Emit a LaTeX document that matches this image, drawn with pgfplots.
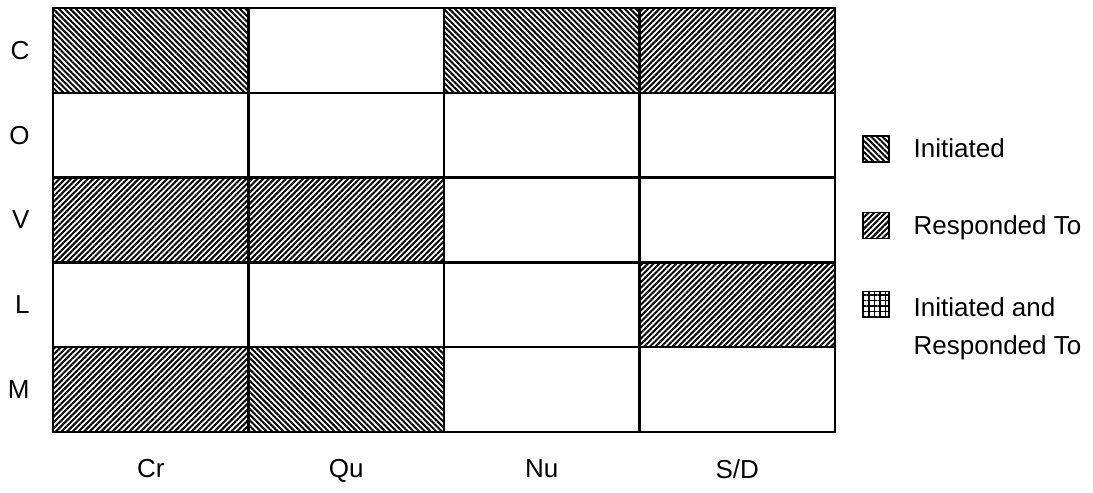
\documentclass[border=0pt]{standalone}
\usepackage{pgfplots}
\pgfplotsset{compat=1.18}
\usetikzlibrary{patterns.meta}
\usepackage{fontspec}
\setmainfont{Liberation Sans}

\tikzset{
  initiated/.style={pattern={Lines[angle=-45,distance=4bp,line width=2bp]},pattern color=black},
  responded/.style={pattern={Lines[angle=45,distance=4bp,line width=2bp]},pattern color=black},
  both/.style={pattern={Hatch[angle=0,distance=5.5bp,line width=1.2bp]},pattern color=black},
}

\begin{document}
\begin{tikzpicture}[font=\fontsize{26bp}{31bp}\selectfont]
\useasboundingbox (0,0) rectangle (1093bp,493bp);
\begin{axis}[
    scale only axis,
    width=782bp, height=424bp,
    at={(53bp,61bp)}, anchor=south west,
    xmin=0, xmax=4, ymin=0, ymax=5,
    xtick={0.5,1.5,2.5,3.5},
    xticklabels={Cr,Qu,Nu,S/D},
    ytick={0.5,1.5,2.5,3.5,4.5},
    yticklabels={M,L,V,O,C},
    tick label style={font=\fontsize{26bp}{31bp}\selectfont},
    major tick length=0pt,
    minor xtick={1,2,3},
    minor ytick={1,2,3,4},
    minor tick length=0pt,
    xminorgrids, yminorgrids,
    minor grid style={black, line width=2.4bp},
    axis line style={black, line width=2.8bp},
    axis on top,
    xticklabel style={yshift=-24bp},
    yticklabel style={xshift=-20bp},
    legend style={
      at={(1.0345,0.70)}, anchor=north west,
      draw=none, fill=none, inner sep=0pt,
      row sep=49bp, column sep=22bp,
      font=\fontsize{26bp}{31bp}\selectfont,
    },
    legend cell align=left,
    legend image code/.code={
      \draw[#1, draw=black, line width=1.5bp] (0bp,-13bp) rectangle (26bp,13bp);
    },
]
% Initiated
\addplot[initiated, draw=none] coordinates {(0,4) (1,4) (1,5) (0,5)} -- cycle;
\addlegendentry{Initiated}
\addplot[responded, draw=none] coordinates {(3,4) (4,4) (4,5) (3,5)} -- cycle;
\addlegendentry{Responded To}
\addlegendimage{both}
\addlegendentry{\renewcommand\arraystretch{1.22}\begin{tabular}[t]{@{}l@{}}Initiated and\\Responded To\end{tabular}}
\addplot[initiated, draw=none, forget plot] coordinates {(2,4) (3,4) (3,5) (2,5)} -- cycle;
\addplot[initiated, draw=none, forget plot] coordinates {(1,0) (2,0) (2,1) (1,1)} -- cycle;
% Responded To
\addplot[responded, draw=none, forget plot] coordinates {(0,2) (1,2) (1,3) (0,3)} -- cycle;
\addplot[responded, draw=none, forget plot] coordinates {(1,2) (2,2) (2,3) (1,3)} -- cycle;
\addplot[responded, draw=none, forget plot] coordinates {(3,1) (4,1) (4,2) (3,2)} -- cycle;
\addplot[responded, draw=none, forget plot] coordinates {(0,0) (1,0) (1,1) (0,1)} -- cycle;
\end{axis}
\end{tikzpicture}
\end{document}
